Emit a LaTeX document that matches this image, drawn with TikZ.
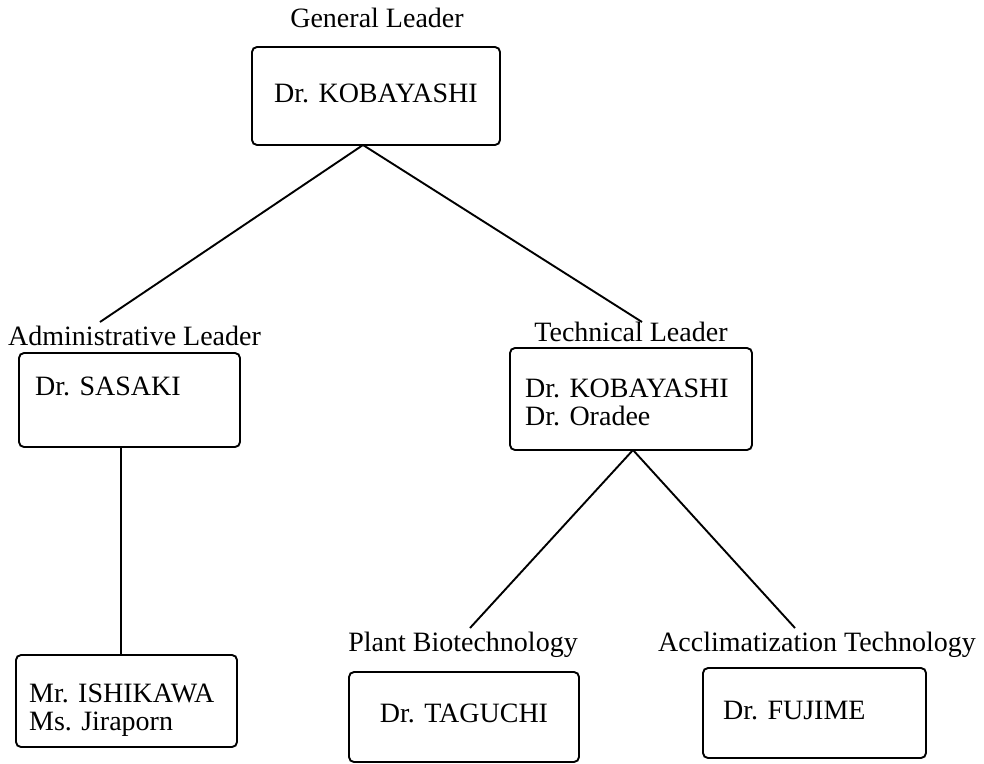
\documentclass[tikz,border=0pt]{standalone}
\usepackage{fontspec}
\setmainfont{Liberation Serif}
\begin{document}
\begin{tikzpicture}[x=1pt,y=-1pt,
  unitbox/.style={draw, line width=1.9pt, rounded corners=5pt, inner sep=0pt, outer sep=0pt},
  lbl/.style={inner sep=0pt, anchor=base},
  txt/.style={inner sep=0pt, anchor=base west, align=left},
  link/.style={line width=1.9pt}]
\useasboundingbox (0,0) rectangle (984,763);
\fontsize{28}{27.5}\selectfont

% boxes
\node[unitbox, minimum width=248pt, minimum height=98pt] (gl) at (376,96) {};
\node[unitbox, minimum width=221pt, minimum height=94pt] (al) at (129.5,400) {};
\node[unitbox, minimum width=221pt, minimum height=92pt] (ad) at (126.5,701) {};
\node[unitbox, minimum width=242pt, minimum height=102pt] (tl) at (631,399) {};
\node[unitbox, minimum width=230pt, minimum height=90pt] (pb) at (464,717) {};
\node[unitbox, minimum width=223pt, minimum height=90pt] (ac) at (814.5,713) {};

% role labels
\node[lbl] (glLabel) at (377,27) {General Leader};
\node[inner sep=0pt, anchor=base west] (alLabel) at (8,345) {Administrative Leader};
\node[lbl] (tlLabel) at (631,341) {Technical Leader};
\node[lbl] (pbLabel) at (463,651) {Plant Biotechnology};
\node[lbl] (acLabel) at (817,651) {Acclimatization Technology};

% names (two-line nodes are placed by the baseline of their last line)
\node[lbl] (glName) at (376,102) {Dr. KOBAYASHI};
\node[txt] (alName) at (35,395) {Dr. SASAKI};
\node[txt] (adName) at (29,730) {Mr. ISHIKAWA\\Ms. Jiraporn};
\node[txt] (tlName) at (525,425) {Dr. KOBAYASHI\\Dr. Oradee};
\node[lbl] (pbName) at (464,722) {Dr. TAGUCHI};
\node[txt] (acName) at (723,719) {Dr. FUJIME};

% connector ends
\coordinate (glApex) at (363,145);
\coordinate (alEnd) at (100,322);
\coordinate (tlEnd) at (642,322);
\coordinate (tlApex) at (633,450);
\coordinate (pbEnd) at (470,628);
\coordinate (acEnd) at (795,628);

\draw[link] (glApex) -- (alEnd);
\draw[link] (glApex) -- (tlEnd);
\draw[link] (al.south -| 121,0) -- (ad.north -| 121,0);
\draw[link] (tlApex) -- (pbEnd);
\draw[link] (tlApex) -- (acEnd);
\end{tikzpicture}
\end{document}
